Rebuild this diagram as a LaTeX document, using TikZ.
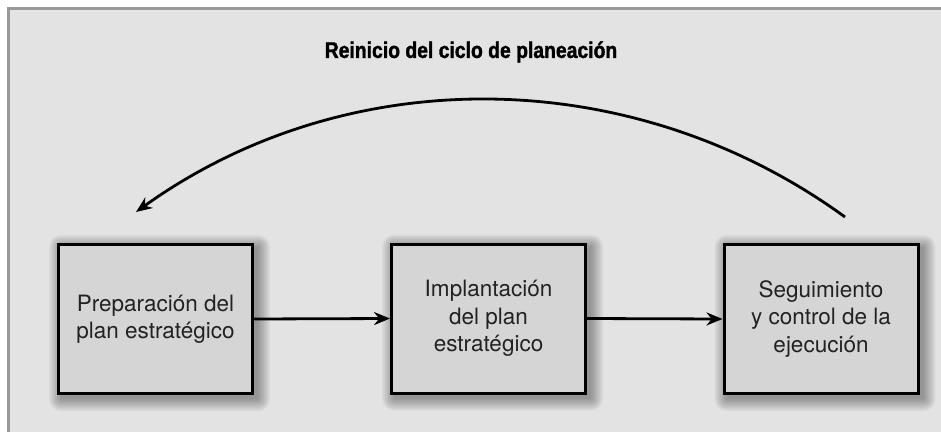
\documentclass[tikz,border=0pt]{standalone}
\usepackage{fontspec}
\setmainfont{TeX Gyre Heros}
\newfontfamily\titlefont[FakeStretch=0.86,FakeBold=1.5]{Liberation Sans Bold}
\usetikzlibrary{arrows.meta}
\pgfdeclarelayer{shadowlayer}
\pgfsetlayers{shadowlayer,main}
\definecolor{panelbg}{HTML}{E3E3E3}
\definecolor{panelline}{HTML}{999999}
\definecolor{boxbg}{HTML}{D5D5D5}
\definecolor{txt}{HTML}{222222}
\tikzset{
  stepbox/.style={draw=black, line width=3pt, fill=boxbg, minimum width=194pt, minimum height=149pt,
    align=center, font=\fontsize{22.5}{27.5}\selectfont, text=txt, inner sep=0pt},
  flow/.style={line width=2.8pt, -{Stealth[length=16pt,width=13pt]}},
  softshade/.style={fill=black, fill opacity=0.045},
}
\begin{document}
\begin{tikzpicture}[x=1pt,y=-1pt]
\useasboundingbox (0,0) rectangle (941,431);
\begin{pgfonlayer}{shadowlayer}
\fill[panelbg] (8,8.5) rectangle (950,440);
\draw[panelline, line width=3pt] (8,440) -- (8,8.5) -- (950,8.5);
\end{pgfonlayer}
\node[font=\titlefont\fontsize{22.5}{24}\selectfont, text=black] (title) at (471,52) {Reinicio del ciclo de planeación};
\node[stepbox] (a) at (155.5,319) {Preparación del\\plan estratégico};
\node[stepbox] (b) at (488.5,318.5) {Implantación\\del plan\\estratégico};
\node[stepbox] (c) at (821,319) {Seguimiento\\y control de la\\ejecución};
\begin{pgfonlayer}{shadowlayer}
\foreach \n in {a,b,c}{
  \foreach \r in {0,1.5,...,12}{
    \fill[softshade, rounded corners=\r pt] ([shift={(4-\r,4-\r)}]\n.north west) rectangle ([shift={(4+\r,4+\r)}]\n.south east);
  }
}
\end{pgfonlayer}
\draw[flow] (a.east) -- (b.west);
\draw[flow] (b.east) -- (c.west);
\coordinate (arcstart) at (845,217);
\coordinate (arcend) at (136,212);
\draw[flow] (arcstart) .. controls (633,63) and (348,60) .. (arcend);
\end{tikzpicture}
\end{document}
